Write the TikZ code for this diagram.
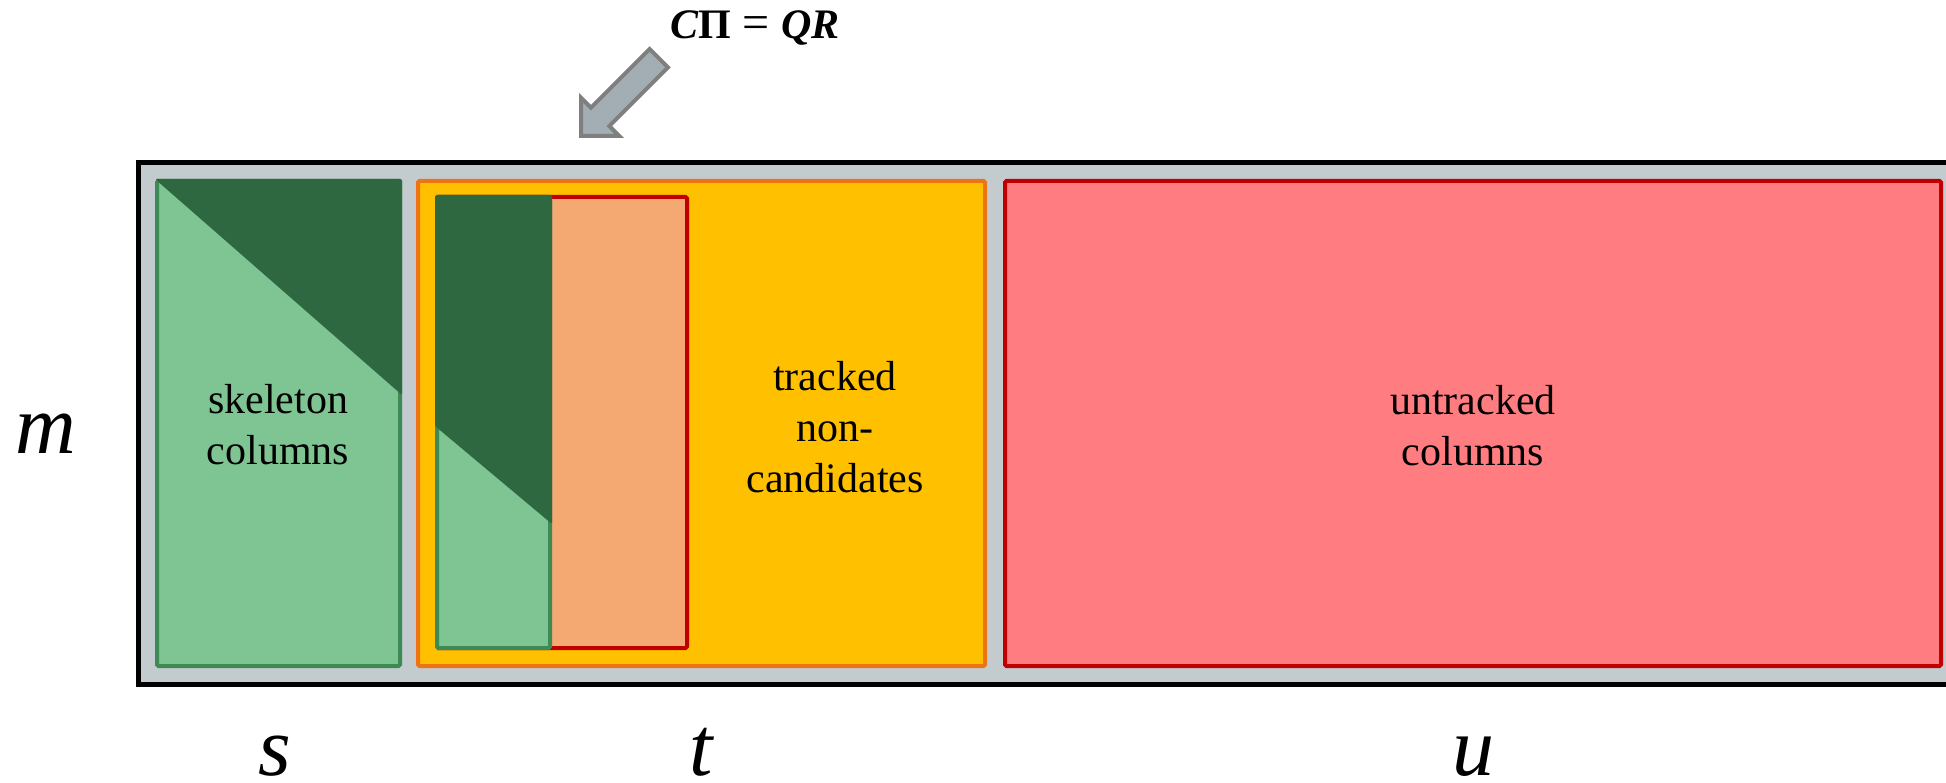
\documentclass[tikz,border=0pt]{standalone}
\usepackage{fontspec}
\setmainfont{Liberation Serif}
\definecolor{outerg}{HTML}{C4CBCE}
\definecolor{lgreen}{HTML}{7FC493}
\definecolor{dgreen}{HTML}{2E6841}
\definecolor{mgreen}{HTML}{3E8A55}
\definecolor{yel}{HTML}{FFC000}
\definecolor{orng}{HTML}{EE7413}
\definecolor{peach}{HTML}{F4A872}
\definecolor{dred}{HTML}{C00000}
\definecolor{pink}{HTML}{FF7C80}
\definecolor{arrfill}{HTML}{A2ADB4}
\definecolor{arrline}{HTML}{7F7F7F}
\begin{document}
\begin{tikzpicture}[x=1pt,y=-1pt,
  box/.style={line width=4pt, rounded corners=1.5pt},
  lbl/.style={font=\fontsize{42}{51}\selectfont, align=center, text=black},
  var/.style={font=\fontsize{84}{84}\selectfont\itshape, anchor=base, inner sep=0pt}]
\useasboundingbox (0,0) rectangle (1946,783);
% outer matrix
\begin{scope}
\clip (0,0) rectangle (1946,783);
\draw[fill=outerg, line width=5pt] (138,163) rectangle (1990,684);
\end{scope}
% skeleton columns
\draw[box, draw=mgreen, fill=lgreen] (157,181) rectangle (400,666);
\fill[dgreen, rounded corners=1.5pt] (155,179) -- (402,179) -- (402,395) -- cycle;
% tracked non-candidates
\draw[box, draw=orng, fill=yel] (418,181) rectangle (985,666);
\draw[box, draw=dred, fill=peach] (437,197) rectangle (687,648);
\draw[box, draw=mgreen, fill=lgreen] (437,197) rectangle (550,648);
\fill[dgreen, rounded corners=1.5pt] (435,195) -- (552,195) -- (552,524) -- (435,426) -- cycle;
% untracked columns
\draw[box, draw=dred, fill=pink] (1005,181) rectangle (1941,666);
% labels
\node[lbl] (skel) at (278,425) {skeleton\\columns};
\node[lbl] (trk) at (835,427) {tracked\\non-\\candidates};
\node[lbl] (untrk) at (1473,426) {untracked\\columns};
\node[var] (m) at (46,453) {m};
\node[var] (s) at (275,775) {s};
\node[var] (t) at (701,775) {t};
\node[var] (u) at (1473,775) {u};
% title and arrow
\node[font=\fontsize{42}{42}\selectfont, anchor=base] (title) at (755,39)
  {{\bfseries\itshape C}{\bfseries Π}\hspace{0.28em}{\fontsize{48}{48}\selectfont=}\hspace{0.28em}{\bfseries\itshape QR}};
\draw[fill=arrfill, draw=arrline, line width=4pt, line join=miter]
  (581,136) -- (581,97.8) -- (590.9,107.7) -- (649.6,49) -- (668,67.4)
  -- (609.3,126.1) -- (619.2,136) -- cycle;
\end{tikzpicture}
\end{document}
